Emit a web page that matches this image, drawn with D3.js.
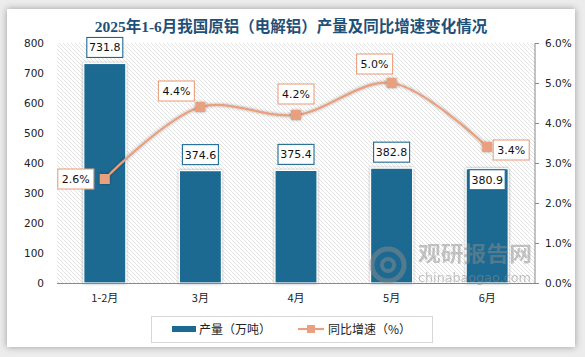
<!DOCTYPE html>
<html><head><meta charset="utf-8">
<script src="https://cdn.jsdelivr.net/npm/d3@7/dist/d3.min.js"></script>
<style>
html,body{margin:0;padding:0;background:#ececec;}
body{width:585px;height:357px;overflow:hidden;position:relative;}
#card{position:absolute;left:7px;top:9px;width:568px;height:338px;background:#fff;box-shadow:0 0 7px rgba(0,0,0,0.35);}
svg{position:absolute;left:0;top:0;}
</style></head><body>
<div id="card"></div>
<svg id="chart" width="585" height="357"></svg>
<script>
const categories = ["1-2月","3月","4月","5月","6月"];
const production = [731.8, 374.6, 375.4, 382.8, 380.9];
const growth = [2.6, 4.4, 4.2, 5.0, 3.4];
const leftTicks = [0,100,200,300,400,500,600,700,800];
const rightTicks = [0,1,2,3,4,5,6];
const title = "2025年1-6月我国原铝（电解铝）产量及同比增速变化情况";
const seriesNames = ["产量（万吨）","同比增速（%）"];

const barColor = "#1c6a92", lineColor = "#e9a07e";
const svg = d3.select("#chart");
const m = {l:57, r:535, t:43, b:283};
const defs = svg.append("defs");
const pat = defs.append("pattern").attr("id","hatch").attr("patternUnits","userSpaceOnUse").attr("width",4).attr("height",4);
pat.append("path").attr("d","M-1,-1 L5,5 M-1,3 L1,5 M3,-1 L5,1").attr("stroke","#dcdcdc").attr("stroke-width",0.8);
const f = defs.append("filter").attr("id","sh").attr("x","-30%").attr("y","-30%").attr("width","160%").attr("height","160%");
f.append("feDropShadow").attr("dx",0).attr("dy",0).attr("stdDeviation",1.8).attr("flood-color","#000").attr("flood-opacity",0.35);

svg.append("text").attr("x",291).attr("y",32).attr("text-anchor","middle")
  .attr("font-family","'Liberation Serif','Noto Sans CJK SC',serif").attr("font-weight","bold")
  .attr("font-size",15.5).attr("fill","#1f5078").text(title);

svg.append("rect").attr("x",m.l).attr("y",m.t).attr("width",m.r-m.l).attr("height",m.b-m.t).attr("fill","url(#hatch)");

const x = d3.scaleBand().domain(categories).range([m.l,m.r]).paddingInner(0.56).paddingOuter(0.28);
const y = d3.scaleLinear().domain([0,800]).range([m.b,m.t]);
const y2 = d3.scaleLinear().domain([0,6]).range([m.b,m.t]);

const font = "'DejaVu Sans',Verdana,sans-serif";
// bars
svg.append("g").selectAll("rect").data(production).join("rect")
  .attr("x",(d,i)=>x(categories[i])).attr("width",x.bandwidth())
  .attr("y",d=>y(d)).attr("height",d=>y(0)-y(d))
  .attr("fill",barColor).attr("stroke","#fff").attr("stroke-width",1.2).attr("filter","url(#sh)");

// watermark (drawn over bars, semi-transparent)
const wm = svg.append("g").attr("opacity",0.5).attr("fill","#8a8a8a");
wm.append("circle").attr("cx",388).attr("cy",265).attr("r",16).attr("fill","none").attr("stroke","#8a8a8a").attr("stroke-width",5);
wm.append("circle").attr("cx",388).attr("cy",265).attr("r",6).attr("fill","none").attr("stroke","#8a8a8a").attr("stroke-width",4);
wm.append("text").attr("x",418).attr("y",261).attr("textLength",114).attr("lengthAdjust","spacingAndGlyphs")
  .attr("font-family","'Noto Sans CJK SC'").attr("font-weight","bold").attr("font-size",21).text("观研报告网");
wm.append("text").attr("x",418).attr("y",282).attr("textLength",113).attr("lengthAdjust","spacingAndGlyphs")
  .attr("font-family","'DejaVu Sans'").attr("font-size",12).text("chinabaogao.com");

// axes
const gl = svg.append("g").attr("transform",`translate(${m.l},0)`).call(d3.axisLeft(y).tickValues(leftTicks).tickSize(0).tickPadding(13));
gl.select(".domain").remove();
gl.selectAll("text").attr("font-family",font).attr("font-size",10.5).attr("fill","#222");
const gr = svg.append("g").attr("transform",`translate(${m.r},0)`).call(d3.axisRight(y2).tickValues(rightTicks).tickSize(4).tickPadding(6).tickFormat(d=>d.toFixed(1)+"%"));
gr.select(".domain").attr("stroke","#888").attr("d",`M0,${m.t}V${m.b}`);
gr.selectAll("line").attr("stroke","#888");
gr.selectAll("text").attr("font-family",font).attr("font-size",10.5).attr("fill","#222");
svg.append("line").attr("x1",m.l).attr("x2",m.r).attr("y1",m.b+0.5).attr("y2",m.b+0.5).attr("stroke","#888");
svg.append("g").selectAll("text").data(categories).join("text")
  .attr("x",d=>x(d)+x.bandwidth()/2).attr("y",302).attr("text-anchor","middle")
  .attr("font-family","'Noto Sans CJK SC',sans-serif").attr("font-size",11).attr("fill","#222").text(d=>d);

// line
const cx = i=>x(categories[i])+x.bandwidth()/2;
const line = d3.line().x((d,i)=>cx(i)).y(d=>y2(d)).curve(d3.curveCatmullRom.alpha(0.5));
svg.append("path").datum(growth).attr("d",line).attr("fill","none").attr("stroke",lineColor).attr("stroke-width",2.2).attr("filter","url(#sh)");
svg.append("g").selectAll("rect").data(growth).join("rect")
  .attr("x",(d,i)=>cx(i)-5).attr("y",d=>y2(d)-5).attr("width",10).attr("height",10)
  .attr("fill",lineColor).attr("filter","url(#sh)");

function box(cxp, cyp, txt, stroke){
  const g = svg.append("g");
  const w = 36, h = 20;
  g.append("rect").attr("x",cxp-w/2).attr("y",cyp-h/2).attr("width",w).attr("height",h)
    .attr("fill","#fff").attr("stroke",stroke).attr("stroke-width",1.1);
  g.append("text").attr("x",cxp).attr("y",cyp+4).attr("text-anchor","middle")
    .attr("font-family",font).attr("font-size",11).attr("fill","#111").text(txt);
}
// bar labels: offset of box centre relative to bar top
const barLabelDy = [-16,-16,-16,-16,11];
production.forEach((d,i)=>box(cx(i), y(d)+barLabelDy[i], d.toFixed(1), barColor));
// growth labels offsets relative to point
const lblOff = [[-29,0],[-24,-16],[0,-21],[-17,-19],[24,3]];
growth.forEach((d,i)=>box(cx(i)+lblOff[i][0], y2(d)+lblOff[i][1], d.toFixed(1)+"%", lineColor));

// legend
const lg = svg.append("g");
lg.append("rect").attr("x",151.5).attr("y",316.5).attr("width",281).attr("height",26).attr("fill","#fff").attr("stroke","#d6d6d6");
lg.append("rect").attr("x",172).attr("y",326).attr("width",24).attr("height",6).attr("fill",barColor);
lg.append("text").attr("x",199).attr("y",334).attr("font-family","'Noto Sans CJK SC'").attr("font-size",12).attr("fill","#222").text(seriesNames[0]);
lg.append("line").attr("x1",298).attr("x2",324).attr("y1",329).attr("y2",329).attr("stroke",lineColor).attr("stroke-width",2.2);
lg.append("rect").attr("x",307).attr("y",325).attr("width",8).attr("height",8).attr("fill",lineColor);
lg.append("text").attr("x",328).attr("y",334).attr("font-family","'Noto Sans CJK SC'").attr("font-size",12).attr("fill","#222").text(seriesNames[1]);
</script>
</body></html>
